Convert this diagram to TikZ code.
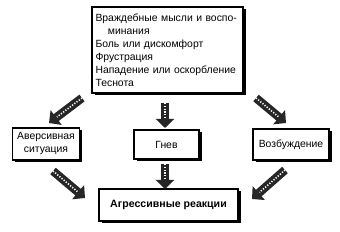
\documentclass[tikz,border=0pt]{standalone}
\usepackage{fontspec}
\setmainfont{Liberation Sans}
\usetikzlibrary{shadows,arrows.meta}
\begin{document}
\begin{tikzpicture}[x=1pt,y=-1pt,
  box/.style={draw=black, line width=1.1pt, fill=white, inner sep=0pt,
    font=\fontsize{10.4}{13}\selectfont,
    drop shadow={shadow xshift=2.5pt, shadow yshift=-2.5pt, fill=black, opacity=1}},
  bigarrow/.style={draw=black!85, line width=8.5pt,
    -{Triangle[width=18pt,length=9pt]},
    postaction={draw=white, line width=1.6pt, dash pattern=on 1.2pt off 1.6pt, shorten >=10pt, -}}
]
\useasboundingbox (0,0) rectangle (340,232);
\node[box, minimum width=151pt, minimum height=86pt, align=left, text width=144pt] (top) at (167.5,50)
  {Враждебные мысли и воспо-\\\hspace*{1.2em}минания\\Боль или дискомфорт\\Фрустрация\\Нападение или оскорбление\\Теснота};
\node[box, minimum width=67pt, minimum height=32pt, align=center] (left) at (46,144) {Аверсивная\\ситуация};
\node[box, minimum width=65pt, minimum height=29pt] (gnev) at (166.5,144.5) {Гнев};
\node[box, minimum width=76pt, minimum height=31pt] (right) at (291,144.5) {Возбуждение};
\node[box, minimum width=139pt, minimum height=32pt, font=\fontsize{10.6}{13}\selectfont\bfseries] (bottom) at (168.5,205) {Агрессивные реакции};
\coordinate (tls) at (82,98);
\coordinate (tle) at (49,123);
\coordinate (trs) at (256,98);
\coordinate (tre) at (286,123);
\coordinate (bls) at (53,171);
\coordinate (ble) at (85,198);
\coordinate (brs) at (285,170);
\coordinate (bre) at (252,199);
\coordinate (c1s) at (165,103);
\coordinate (c1e) at (165,128);
\coordinate (c2s) at (165,164);
\coordinate (c2e) at (165,189);
\draw[bigarrow] (tls) -- (tle);
\draw[bigarrow] (trs) -- (tre);
\draw[bigarrow] (bls) -- (ble);
\draw[bigarrow] (brs) -- (bre);
\draw[bigarrow] (c1s) -- (c1e);
\draw[bigarrow] (c2s) -- (c2e);
\end{tikzpicture}
\end{document}
